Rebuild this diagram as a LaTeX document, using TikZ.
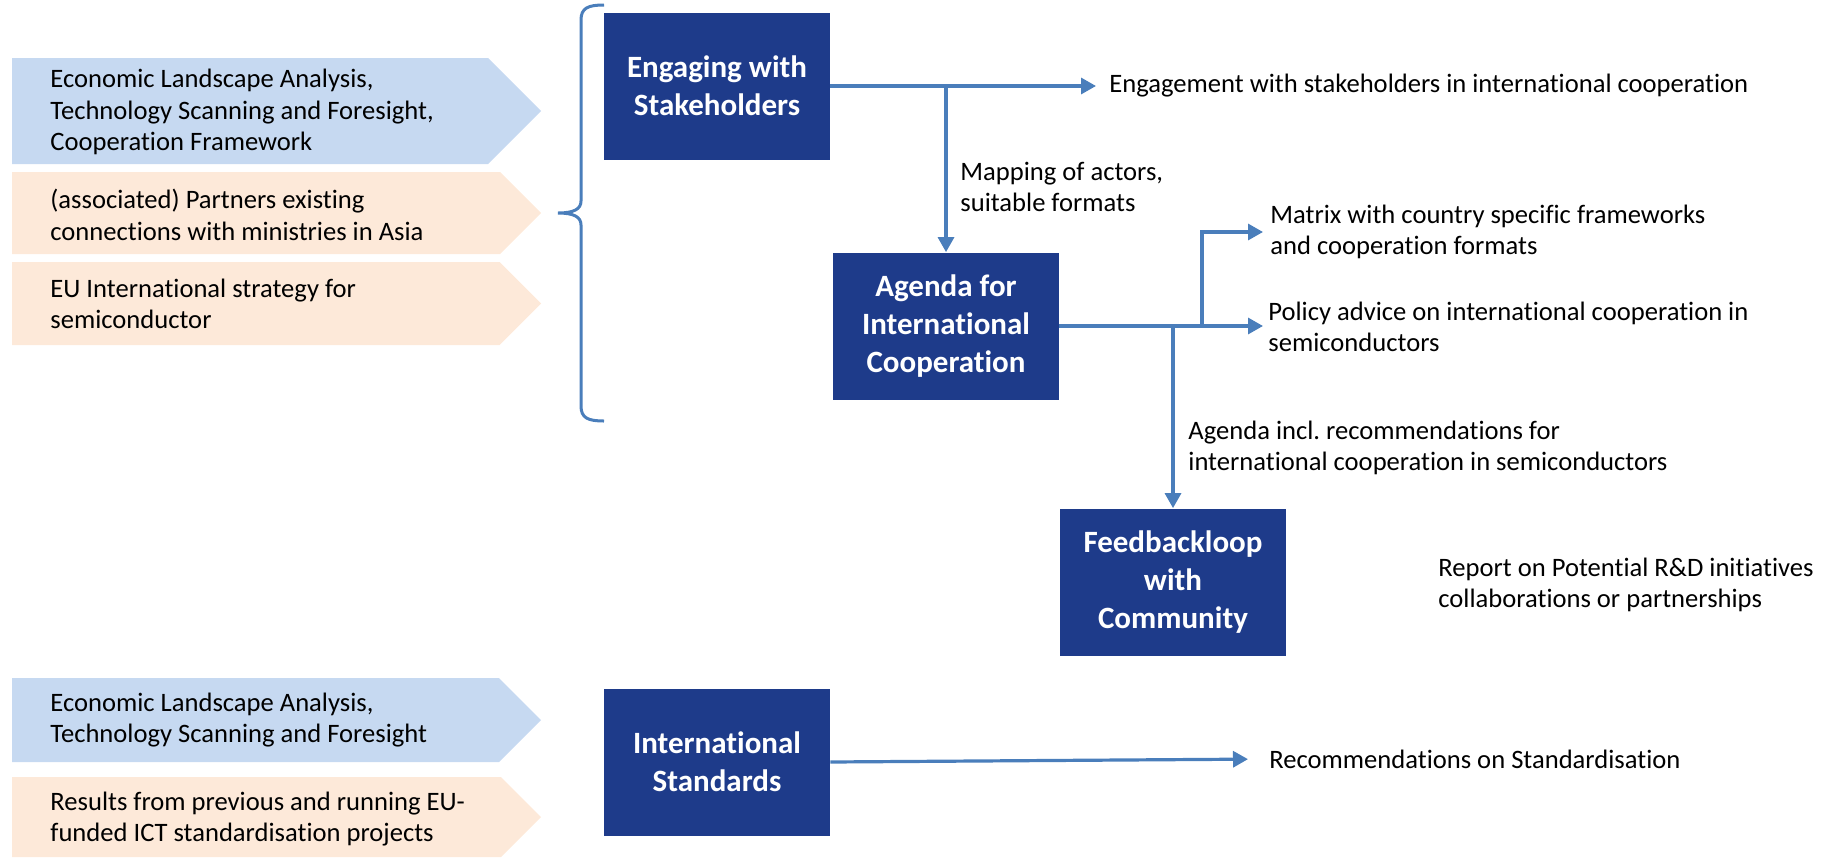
\documentclass[tikz,border=0pt]{standalone}
\usepackage{fontspec}
\setmainfont{Carlito}[Ligatures=NoCommon]
\usetikzlibrary{arrows.meta}

\definecolor{boxblue}{RGB}{30,59,138}
\definecolor{lineblue}{RGB}{74,126,187}
\definecolor{inblue}{RGB}{198,217,241}
\definecolor{inpeach}{RGB}{253,233,217}

\tikzset{
  task/.style={shape=rectangle, fill=boxblue, text=white, font=\fontsize{15.5}{19}\selectfont\bfseries,
    align=center, minimum width=113pt, minimum height=73.5pt, inner sep=0pt},
  txt/.style={anchor=west, align=left, inner sep=0pt, font=\fontsize{13.3}{15.75}\selectfont},
  flow/.style={draw=lineblue, line width=1.6pt, -{Triangle[length=7.5pt,width=8pt]}},
}

\begin{document}
\begin{tikzpicture}[x=0.5pt,y=-0.5pt]
    \useasboundingbox (0,0) rectangle (1821,857);

    % input chevrons
    \foreach \t/\b/\c in {58/164/inblue, 172/254/inpeach, 262/345/inpeach, 678/762/inblue, 777/857/inpeach}
        \fill[\c] (12,\t) -- ({541-(\b-\t)/2},\t) -- (541,{(\t+\b)/2}) -- ({541-(\b-\t)/2},\b) -- (12,\b) -- cycle;

    \node[txt] (in1) at (50,112) {Economic Landscape Analysis,\\Technology Scanning and Foresight,\\Cooperation Framework};
    \node[txt] (in2) at (50,215) {(associated) Partners existing\\connections with ministries in Asia};
    \node[txt] (in3) at (50,304) {EU International strategy for\\semiconductor};
    \node[txt] (in4) at (50,720) {Economic Landscape Analysis,\\Technology Scanning and Foresight};
    \node[txt] (in5) at (50,819) {Results from previous and running EU-\\funded ICT standardisation projects};

    % brace
    \draw[lineblue, line width=1.5pt] (604,5) .. controls (588,5) and (581,8) .. (581,20) -- (581,201)
        .. controls (581,209) and (574,213) .. (558,213) .. controls (574,213) and (581,217) .. (581,225)
        -- (581,406) .. controls (581,418) and (588,421) .. (604,421);

    % tasks
    \node[task] (eng) at (717,86) {Engaging with\\Stakeholders};
    \node[task] (agenda) at (946,326) {Agenda for\\International\\Cooperation};
    \node[task] (feedback) at (1173,582) {Feedbackloop\\with\\Community};
    \node[task] (stand) at (717,762) {International\\Standards};

    % outputs
    \node[txt] (outEng) at (1109,86) {Engagement with stakeholders in international cooperation};
    \node[txt] (map) at (960,187) {Mapping of actors,\\suitable formats};
    \node[txt] (matrix) at (1270,232) {Matrix with country specific frameworks\\and cooperation formats};
    \node[txt] (policy) at (1268,327) {Policy advice on international cooperation in\\semiconductors};
    \node[txt] (agendaRec) at (1188,448) {Agenda incl.\ recommendations for\\international cooperation in semiconductors};
    \node[txt] (report) at (1438,585) {Report on Potential R\&D initiatives\\collaborations or partnerships};
    \node[txt] (rec) at (1269,759) {Recommendations on Standardisation};

    \coordinate (fork) at (1202,326);

    \draw[flow, shorten >=6.5pt] (eng.east) -- (outEng.west);
    \draw[flow] (eng.east -| agenda.north) -- (agenda.north);
    \draw[flow, shorten >=2.5pt] (agenda.east) -- (agenda.east -| policy.west);
    \draw[flow, shorten >=3.5pt] (fork) |- (matrix.west);
    \draw[flow] (agenda.east -| feedback.north) -- (feedback.north);
    \draw[flow, shorten >=10.5pt] (stand.east) -- (rec.west);
\end{tikzpicture}
\end{document}
